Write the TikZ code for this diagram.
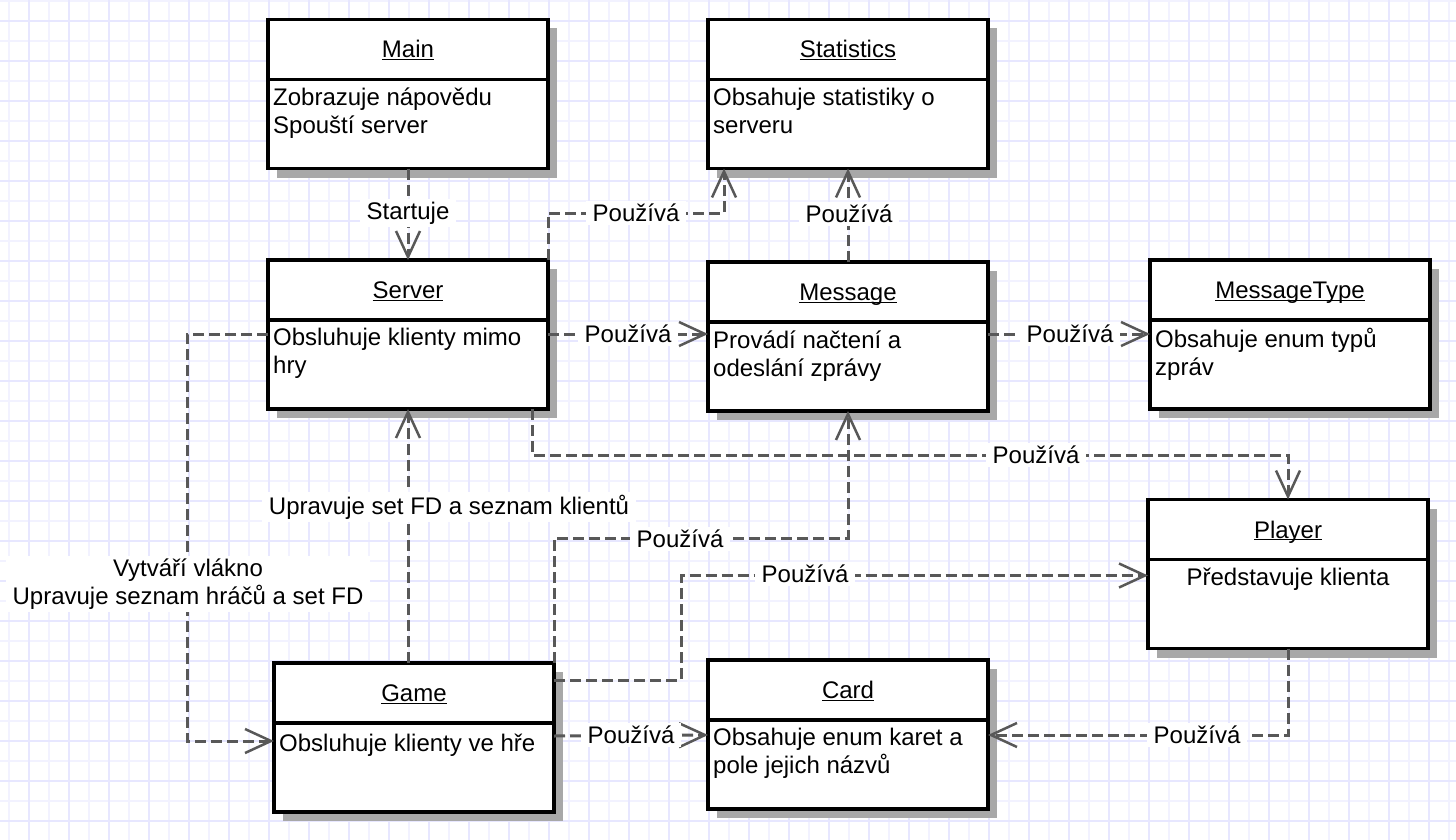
\documentclass[tikz,border=0pt]{standalone}
\usepackage{fontspec}
\setmainfont{Liberation Sans}
\usetikzlibrary{shadows,arrows.meta,positioning,calc}
\definecolor{gridmaj}{RGB}{231,231,255}
\definecolor{gridmin}{RGB}{242,242,255}
\definecolor{linkgray}{RGB}{88,88,88}
\definecolor{shadegray}{RGB}{168,168,168}

\begin{document}
\begin{tikzpicture}
[x=1pt,y=-1pt,
every node/.style={font=\fontsize{24}{28}\selectfont},
minorline/.style={draw=gridmin,line width=2pt},
majorline/.style={draw=gridmaj,line width=2pt},
classhead/.style={shape=rectangle,draw=black,fill=white,line width=3.5pt,outer sep=0pt,
  minimum width=280pt,minimum height=60pt,text height=17pt,text depth=0pt,
  drop shadow={shadow xshift=9pt,shadow yshift=-9pt,fill=shadegray,opacity=1}},
classbody/.style={classhead,minimum height=89pt},
bodytext/.style={anchor=north west,inner sep=0pt,align=left,execute at begin node=\strut},
uses/.style={draw=linkgray,line width=3pt,dash pattern=on 11pt off 5pt,
  -{Straight Barb[length=26pt,width=24pt,line width=2.5pt]}},
lbl/.style={fill=white,inner xsep=7pt,inner ysep=3pt}]
%%
\useasboundingbox (0,0) rectangle (1456,840);
\fill[white] (0,0) rectangle (1456,840);
\foreach \x in {9,49,...,1449} \draw[minorline] (\x,0) -- (\x,840);
\foreach \y in {1,41,...,801} \draw[minorline] (0,\y) -- (1456,\y);
\foreach \x in {29,69,...,1429} \draw[majorline] (\x,0) -- (\x,840);
\foreach \y in {21,61,...,821} \draw[majorline] (0,\y) -- (1456,\y);
%%
\node (main) [classhead] at (408,49.5) {\underbar{Main}};
\node (main-b) [classbody,below=0pt of main] {};
\node (main-t) [bodytext] at ($(main-b.north west)+(5,8.4)$) {Zobrazuje nápovědu\\Spouští server};
%%
\node (stats) [classhead] at (848,49.5) {\underbar{Statistics}};
\node (stats-b) [classbody,below=0pt of stats] {};
\node (stats-t) [bodytext] at ($(stats-b.north west)+(5,8.4)$) {Obsahuje statistiky o\\serveru};
%%
\node (server) [classhead] at (408,290) {\underbar{Server}};
\node (server-b) [classbody,below=0pt of server] {};
\node (server-t) [bodytext] at ($(server-b.north west)+(5,8.4)$) {Obsluhuje klienty mimo\\hry};
%%
\node (message) [classhead] at (848,292) {\underbar{Message}};
\node (message-b) [classbody,below=0pt of message] {};
\node (message-t) [bodytext] at ($(message-b.north west)+(5,8.4)$) {Provádí načtení a\\odeslání zprávy};
%%
\node (mtype) [classhead] at (1290,290) {\underbar{MessageType}};
\node (mtype-b) [classbody,below=0pt of mtype] {};
\node (mtype-t) [bodytext] at ($(mtype-b.north west)+(5,8.4)$) {Obsahuje enum typů\\zpráv};
%%
\node (player) [classhead] at (1288,529.5) {\underbar{Player}};
\node (player-b) [classbody,below=0pt of player] {};
\node (player-t) [anchor=base,inner sep=0pt] at ($(player-b.north)+(0,26)$) {Představuje klienta};
%%
\node (game) [classhead] at (414,693) {\underbar{Game}};
\node (game-b) [classbody,below=0pt of game] {};
\node (game-t) [bodytext] at ($(game-b.north west)+(5,8.4)$) {Obsluhuje klienty ve hře};
%%
\node (card) [classhead] at (848,690) {\underbar{Card}};
\node (card-b) [classbody,below=0pt of card] {};
\node (card-t) [bodytext] at ($(card-b.north west)+(5,8.4)$) {Obsahuje enum karet a\\pole jejich názvů};
%%
\draw[uses] (main-b.south) -- (server.north);
\draw[uses] (server.north east) -- ++(0,-47) -| ([xshift=16pt]stats-b.south west);
\draw[uses] (message.north) -- (stats-b.south);
\draw[uses] ([yshift=-14pt]server-b.north east) -- ([yshift=-12pt]message-b.north west);
\draw[uses] ([yshift=-12pt]message-b.north east) -- ([yshift=-14pt]mtype-b.north west);
\draw[uses] ([xshift=-16pt]server-b.south east) -- ++(0,46) -| (player.north);
\draw[uses] ([xshift=-6pt]game.north) -- (server-b.south);
\draw[uses] (game.north east) -- ++(0,-125) -| (message-b.south);
\draw[uses] ([yshift=-17pt]game.north east) -- ++(127,0) |- ([yshift=-16pt]player-b.north west);
\draw[uses] ([yshift=-14pt]server-b.north west) -- ++(-81,0) |- ([yshift=-18pt]game-b.north west);
\draw[uses] ([yshift=-13pt]game-b.north east) -- ([yshift=-15pt]card-b.north west);
\draw[uses] (player-b.south) |- ([yshift=-15pt]card-b.north east);
%%
\node (l-start) [lbl] at (408,213) {Startuje};
\node (l-stat1) [lbl] at (636,213) {Používá};
\node (l-stat2) [lbl] at (849,214) {Používá};
\node (l-msg) [lbl] at (628,334) {Používá};
\node (l-mtype) [lbl] at (1070,334) {Používá};
\node (l-player1) [lbl] at (1036,455) {Používá};
\node (l-upravuje) [lbl] at (449,507) {Upravuje set FD a seznam klientů};
\node (l-msg2) [lbl] at (680,539) {Používá};
\node (l-player2) [lbl] at (805,574) {Používá};
\node (l-vlakno) [lbl,align=center] at (188,584) {Vytváří vlákno\\Upravuje seznam hráčů a set FD};
\node (l-card1) [lbl] at (631,735) {Používá};
\node (l-card2) [lbl] at (1197,735) {Používá};
\end{tikzpicture}
\end{document}
